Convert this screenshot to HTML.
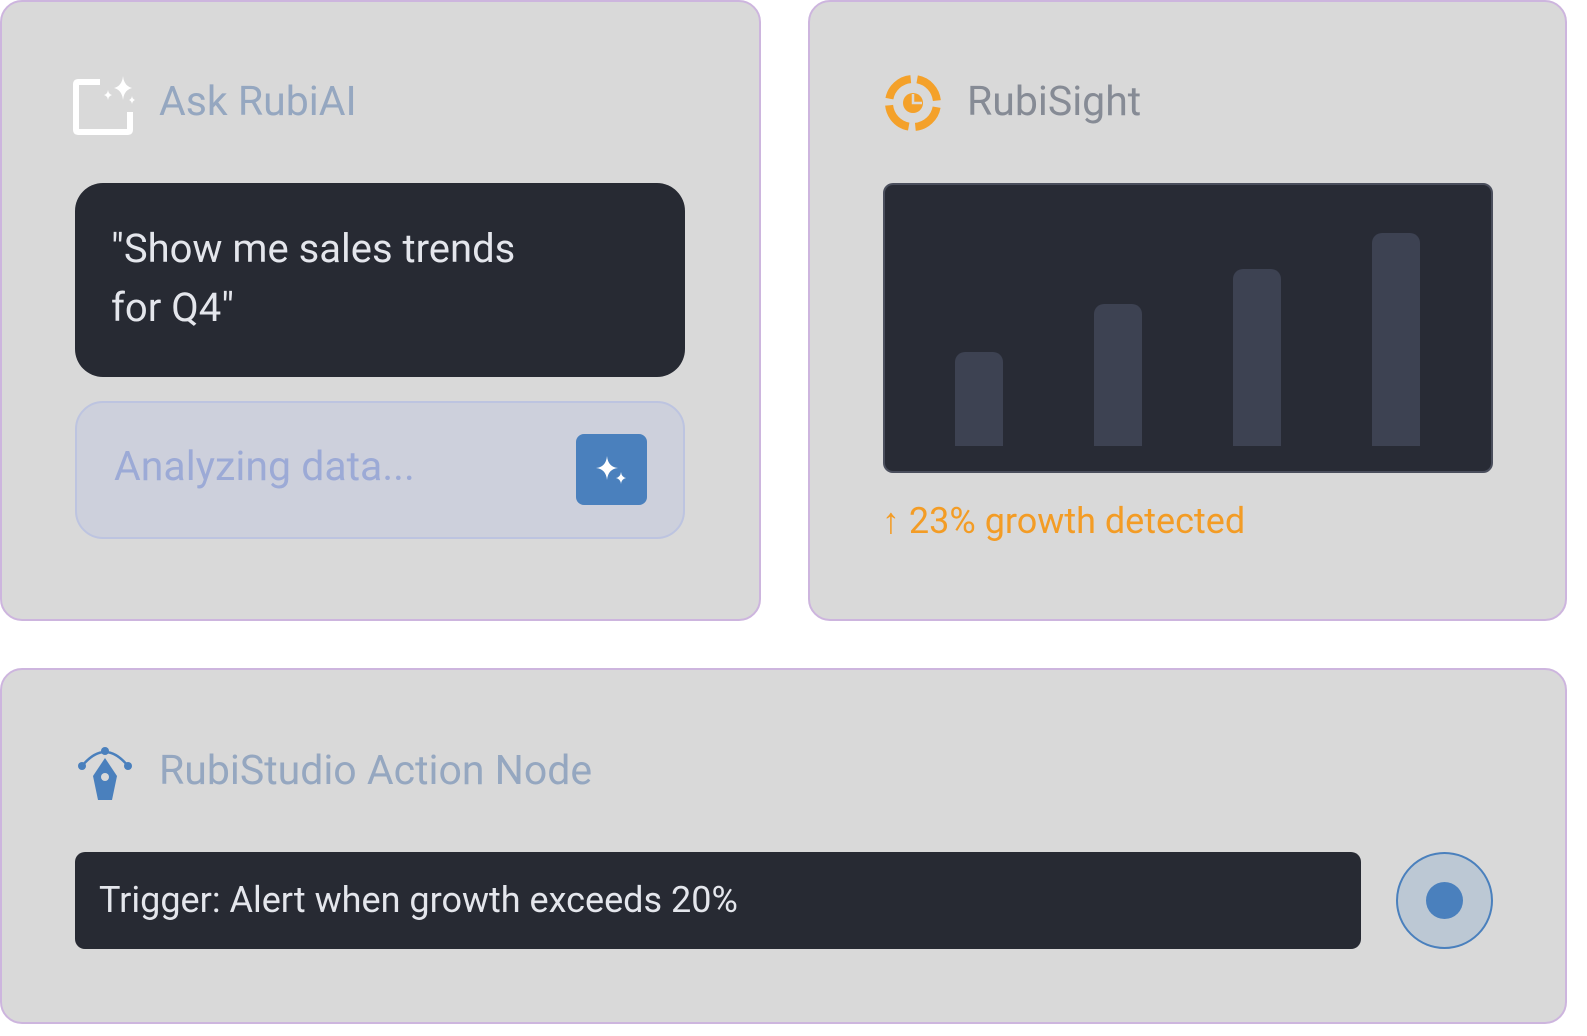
<!DOCTYPE html><html><head><style>
body{margin:0;width:1587px;height:1036px;background:#fff;font-family:"Roboto","Liberation Sans",sans-serif;position:relative;overflow:hidden}
.a{position:absolute;box-sizing:border-box}
.card{background:#d9d9d9;border:2px solid #cdb5de;border-radius:22px}
.t{position:absolute;font-size:41px;white-space:nowrap}
</style></head><body>
<div class="a card" style="left:0;top:0;width:761px;height:621px"></div>
<div class="a card" style="left:808px;top:0;width:759px;height:621px"></div>
<div class="a card" style="left:0;top:668px;width:1567px;height:356px"></div>

<svg class="a" style="left:72px;top:74px" width="66" height="62" viewBox="0 0 66 62">
<path d="M28 8H6Q4 8 4 10V56Q4 58 6 58H56Q58 58 58 56V38" fill="none" stroke="#fff" stroke-width="6"/>
<path d="M51 2Q52 12 60 14Q52 16 51 26Q50 16 42 14Q50 12 51 2Z" fill="#fff"/>
<path d="M36 16Q36.5 20 40 21Q36.5 22 36 26Q35.5 22 32 21Q35.5 20 36 16Z" fill="#fff"/>
<path d="M60 22Q60.4 25 63 26Q60.4 27 60 30Q59.6 27 57 26Q59.6 25 60 22Z" fill="#fff"/>
</svg>
<div class="t" style="left:159px;top:78px;color:#95a7c0">Ask RubiAI</div>
<div class="a" style="left:75px;top:183px;width:610px;height:194px;background:#272a33;border-radius:28px"></div>
<div class="t" style="left:111px;top:219px;color:#e4e6ec;font-size:40px;line-height:59px;white-space:normal;width:440px">"Show me sales trends for Q4"</div>
<div class="a" style="left:75px;top:401px;width:610px;height:138px;background:#cdd0dc;border:2px solid #bdc4e0;border-radius:28px"></div>
<div class="t" style="left:114px;top:443px;color:#9caad6">Analyzing data...</div>
<div class="a" style="left:576px;top:434px;width:71px;height:71px;background:#4a80bd;border-radius:8px"></div>
<svg class="a" style="left:592px;top:450px" width="40" height="40" viewBox="0 0 40 40">
<path d="M15 6Q16 17 26 18Q16 19 15 30Q14 19 4 18Q14 17 15 6Z" fill="#fff"/>
<path d="M29 22Q29.5 27 34 28Q29.5 29 29 34Q28.5 29 24 28Q28.5 27 29 22Z" fill="#fff"/>
</svg>

<svg class="a" style="left:884px;top:74px" width="58" height="58" viewBox="0 0 58 58">
<g fill="none" stroke="#f4a12a" stroke-width="8">
<circle cx="29" cy="29" r="24" stroke-dasharray="31 6.7" transform="rotate(-80 29 29)"/>
</g>
<circle cx="29" cy="29" r="10" fill="#f4a12a"/>
<path d="M29 20V29H38" fill="none" stroke="#d9d9d9" stroke-width="2.5"/>
</svg>
<div class="t" style="left:967px;top:78px;color:#868b95">RubiSight</div>
<div class="a" style="left:883px;top:183px;width:610px;height:290px;background:#282b35;border:2px solid #4a4e5c;border-radius:10px"></div>
<div class="a" style="left:955px;top:352px;width:48px;height:94px;background:#3d4252;border-radius:10px 10px 0 0"></div>
<div class="a" style="left:1094px;top:304px;width:48px;height:142px;background:#3d4252;border-radius:10px 10px 0 0"></div>
<div class="a" style="left:1233px;top:269px;width:48px;height:177px;background:#3d4252;border-radius:10px 10px 0 0"></div>
<div class="a" style="left:1372px;top:233px;width:48px;height:213px;background:#3d4252;border-radius:10px 10px 0 0"></div>
<div class="t" style="left:882px;top:500px;color:#f39c25;font-size:36px">↑ 23% growth detected</div>

<svg class="a" style="left:76px;top:744px" width="58" height="60" viewBox="0 0 58 60">
<path d="M6 22Q29 -6 52 22" fill="none" stroke="#4a80bd" stroke-width="2.5"/>
<circle cx="6" cy="22" r="4" fill="#4a80bd"/><circle cx="29" cy="7" r="4" fill="#4a80bd"/><circle cx="52" cy="22" r="4" fill="#4a80bd"/>
<path d="M29 14L41 32L36 56H22L17 32Z" fill="#4a80bd"/>
<circle cx="29" cy="33" r="4" fill="#d9d9d9"/>
</svg>
<div class="t" style="left:159px;top:747px;color:#95a7c0">RubiStudio Action Node</div>
<div class="a" style="left:75px;top:852px;width:1286px;height:97px;background:#272a33;border-radius:10px"></div>
<div class="t" style="left:99px;top:879px;color:#e4e6ec;font-size:36px">Trigger: Alert when growth exceeds 20%</div>
<div class="a" style="left:1396px;top:852px;width:97px;height:97px;border-radius:50%;background:#bcc8d4;border:2px solid #4a80bd"></div>
<div class="a" style="left:1426px;top:882px;width:37px;height:37px;border-radius:50%;background:#4a80bd"></div>
</body></html>
